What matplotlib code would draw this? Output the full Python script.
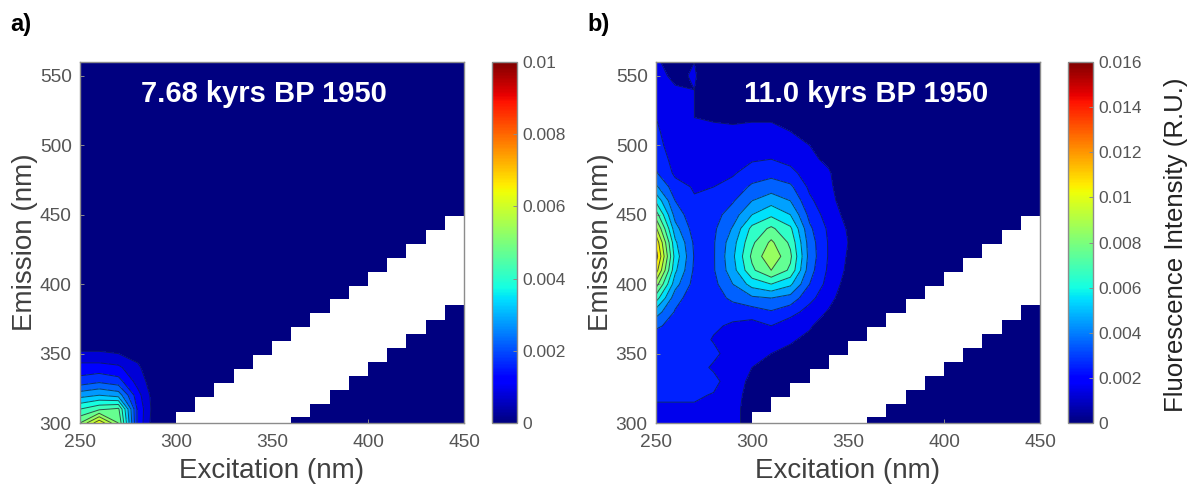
import numpy as np
import matplotlib
matplotlib.use('Agg')
import matplotlib.pyplot as plt
from matplotlib import cm
from matplotlib.colors import Normalize

plt.rcParams['font.family'] = ['Liberation Sans', 'DejaVu Sans']

excitation = [250, 260, 270, 280, 290, 300, 310, 320, 330, 340, 350, 360, 370, 380, 390, 400, 410, 420, 430, 440, 450]
emission = [300, 310, 320, 330, 340, 350, 360, 370, 380, 390, 400, 410, 420, 430, 440, 450, 460, 470, 480, 490, 500, 510, 520, 530, 540, 550, 560]

# panel a, emission 300 to 360, everything else is zero
a_ex250 = [.0050, .0040, .0028, .0017, .0012, .0006, 0]
a_ex260 = [.0064, .0044, .0030, .0019, .0012, .0006, 0]
a_ex270 = [.0050, .0046, .0028, .0017, .0011, .0005, 0]
a_ex280 = [.0014, .0014, .0012, .0008, .0006, .0003, 0]
a_ex290 = [0, .0001, .0001, .0001, 0, 0, 0]

# panel b, emission 300 to 560
b_ex250 = [.0012, .0019, .0021, .0026, .0021, .0028, .0024, .0032, .0045, .0065, .0085, .0105, .0115, .0108, .0092, .0075, .0058, .0042, .0031, .0027, .0024, .0022, .0020, .0018, .0014, .0013, .0012]
b_ex260 = [.0014, .0017, .0023, .0022, .0026, .0023, .0027, .0026, .0029, .0034, .0044, .0052, .0056, .0052, .0044, .0036, .0030, .0024, .0018, .0016, .0014, .0013, .0012, .0012, .0011, .0008, .0004]
b_ex270 = [.0015, .0018, .0022, .0024, .0026, .0023, .0026, .0024, .0023, .0024, .0026, .0028, .0029, .0028, .0025, .0023, .0021, .0019, .0016, .0014, .0013, .0012, .0010, .0010, .0010, .0011, .0010]
b_ex280 = [.0013, .0016, .0019, .0024, .0018, .0023, .0019, .0022, .0024, .0026, .0027, .0029, .0029, .0029, .0028, .0026, .0024, .0020, .0018, .0016, .0014, .0012, .0009, .0005, .0003, .0002, .0002]
b_ex290 = [.0012, .0012, .0012, .0012, .0013, .0014, .0016, .0018, .0025, .0032, .0040, .0046, .0048, .0046, .0041, .0035, .0029, .0023, .0019, .0017, .0014, .0012, .0008, 0, 0, 0, 0]
b_ex300 = [.0007, .0007, .0008, .0009, .0010, .0012, .0014, .0016, .0025, .0038, .0054, .0068, .0072, .0068, .0063, .0050, .0040, .0032, .0024, .0019, .0015, .0012, .0009, .0004, 0, 0, 0]
b_ex310 = [0, 0, 0, .0003, .0007, .0010, .0015, .0020, .0029, .0040, .0060, .0080, .0088, .0082, .0072, .0058, .0046, .0035, .0027, .0020, .0015, .0012, .0009, .0005, .0002, 0, 0]
b_ex320 = [0, 0, 0, .0002, .0005, .0008, .0011, .0014, .0024, .0036, .0052, .0068, .0072, .0068, .0062, .0050, .0040, .0032, .0023, .0017, .0013, .0010, .0006, .0002, 0, 0, 0]
b_ex330 = [0, 0, 0, 0, .0001, .0004, .0008, .0011, .0016, .0023, .0030, .0034, .0036, .0035, .0032, .0027, .0022, .0018, .0015, .0012, .0010, .0006, .0003, 0, 0, 0, 0]
b_ex340 = [0, 0, 0, 0, 0, 0, .0002, .0005, .0009, .0013, .0016, .0018, .0019, .0019, .0018, .0015, .0013, .0012, .0011, .0008, .0005, .0002, 0, 0, 0, 0, 0]
b_ex350 = [0, 0, 0, 0, 0, 0, 0, .0001, .0002, .0004, .0006, .0008, .0009, .0010, .0009, .0007, .0005, .0003, .0002, .0001, 0, 0, 0, 0, 0, 0, 0]

# white band (no data)
band_ex = [300, 310, 320, 330, 340, 350, 360, 370, 380, 390, 400, 410, 420, 430, 440, 450]
band_top = [308, 319, 329, 339, 349, 359, 369, 379, 389, 399, 409, 419, 429, 439, 449, 449]
band_bottom = [300, 300, 300, 300, 300, 300, 304, 314, 324, 334, 344, 354, 364, 374, 385, 385]

a_title = '7.68 kyrs BP 1950'
b_title = '11.0 kyrs BP 1950'
a_ticks = [0, 0.002, 0.004, 0.006, 0.008, 0.01]
a_ticklabels = ['0', '0.002', '0.004', '0.006', '0.008', '0.01']
b_ticks = [0, 0.002, 0.004, 0.006, 0.008, 0.01, 0.012, 0.014, 0.016]
b_ticklabels = ['0', '0.002', '0.004', '0.006', '0.008', '0.01', '0.012', '0.014', '0.016']
a_levels = np.arange(0, 0.01001, 0.0005)
b_levels = np.arange(0, 0.01601, 0.001)

W, H = 1196.0, 494.0
GRAY = '#8c8c8c'
TEXT = '#404040'
TICKTEXT = '#555555'


def box(x0, y0, x1, y1):
    return [x0 / W, 1 - y1 / H, (x1 - x0) / W, (y1 - y0) / H]


def make_grid(columns):
    z = np.zeros((len(emission), len(excitation)))
    for i, col in enumerate(columns):
        z[:len(col), i] = col
    return z


def draw_panel(fig, z, levels, vmax, ticks, ticklabels, title, x0, cb_x0, title_x, letter, letter_x):
    ax = fig.add_axes(box(x0, 62, x0 + 384, 423))
    ax.set_facecolor(cm.jet(0.0))
    # lowest band stays the darkest navy, the others use the middle of the band
    mids = (levels[:-1] + levels[1:]) / 2
    colors = [cm.jet(0.0)] + [cm.jet(m / vmax) for m in mids[1:]]
    ax.contourf(excitation, emission, z, levels=levels, colors=colors)
    ax.contour(excitation, emission, z, levels=levels[1:], colors='#10203a', linewidths=0.7, alpha=0.75)
    ax.fill_between(band_ex, band_bottom, band_top, step='post', color='white', lw=0, zorder=3)
    ax.set_xlim(250, 450)
    ax.set_ylim(300, 560)
    ax.set_xticks([250, 300, 350, 400, 450])
    ax.set_yticks([300, 350, 400, 450, 500, 550])
    ax.tick_params(direction='in', length=3, width=0.7, color=GRAY, labelcolor=TICKTEXT, labelsize=13.8)
    ax.tick_params(axis='x', pad=8)
    ax.tick_params(axis='y', pad=6)
    for s in ax.spines.values():
        s.set_color(GRAY)
        s.set_linewidth(1.0)
        s.set_zorder(5)
    ax.set_xlabel('Excitation (nm)', fontsize=20, color=TEXT, labelpad=5)
    ax.set_ylabel('Emission (nm)', fontsize=20, color=TEXT, labelpad=1)
    fig.text(title_x / W, 1 - 94 / H, title, color='white', fontsize=21, fontweight='bold', ha='center', va='center')
    fig.text(letter_x / W, 1 - 25 / H, letter, color='black', fontsize=17, fontweight='bold', ha='left', va='center')

    cax = fig.add_axes(box(cb_x0, 62, cb_x0 + 25, 423))
    cb = fig.colorbar(cm.ScalarMappable(Normalize(0, vmax), cm.jet), cax=cax)
    cb.set_ticks(ticks)
    cb.set_ticklabels(ticklabels)
    cax.tick_params(direction='in', length=3, width=0.7, color=GRAY, labelcolor=TICKTEXT, labelsize=12.5, pad=4)
    cb.outline.set_edgecolor(GRAY)
    cb.outline.set_linewidth(1.0)
    return cax


fig = plt.figure(figsize=(W / 100, H / 100), dpi=100)

z_a = make_grid([a_ex250, a_ex260, a_ex270, a_ex280, a_ex290])
z_b = make_grid([b_ex250, b_ex260, b_ex270, b_ex280, b_ex290, b_ex300, b_ex310, b_ex320, b_ex330, b_ex340, b_ex350])

draw_panel(fig, z_a, a_levels, 0.01, a_ticks, a_ticklabels, a_title, 80, 492, 264, 'a)', 10)
draw_panel(fig, z_b, b_levels, 0.016, b_ticks, b_ticklabels, b_title, 656, 1068, 866, 'b)', 587)

fig.text(1176 / W, 1 - 245 / H, 'Fluorescence Intensity (R.U.)', rotation=90, fontsize=18.6, color='#222222', ha='center', va='center')

fig.savefig('out.png', dpi=100)
